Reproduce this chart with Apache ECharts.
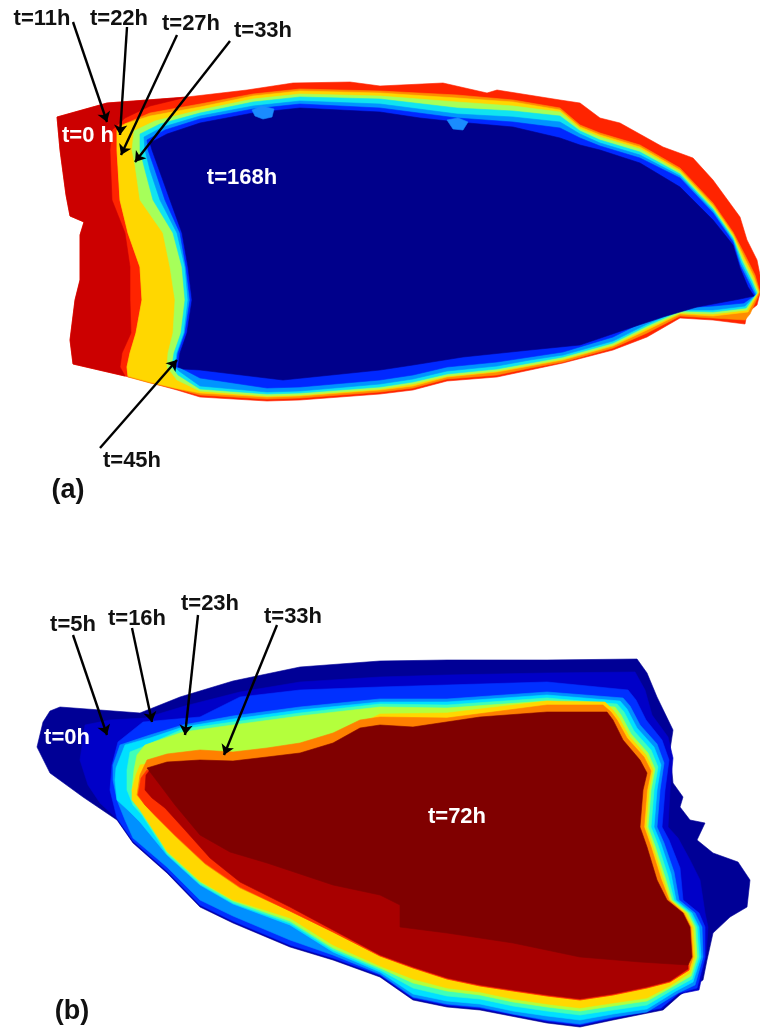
<!DOCTYPE html>
<html>
<head>
<meta charset="utf-8">
<script src="https://cdn.jsdelivr.net/npm/echarts@6/dist/echarts.min.js"></script>
<style>html,body{margin:0;padding:0;background:#fff}#c{width:760px;height:1031px}</style>
</head>
<body>
<div id="c"></div>
<script>
// ---------- Panel (a): contour outlines (image coordinates) ----------
const aOuter = [[57,117],[107,103],[187,97],[247,90],[293,83],[350,82],[380,86],[443,83],[487,93],[497,90],[560,100],[580,103],[600,118],[620,123],[663,147],[693,158],[713,180],[740,217],[747,240],[757,260],[762,285],[757,305],[747,313],[745,324],[713,320],[680,318],[647,337],[613,350],[563,363],[530,370],[497,377],[447,381],[413,390],[380,394],[300,400],[267,401],[200,397],[177,390],[133,378],[73,364],[70,340],[75,300],[80,280],[80,235],[84,222],[70,216],[66,195],[60,150]];
const aT0 = [[57,117],[107,103],[187,97],[150,106],[125,118],[112,130],[110,150],[112,200],[125,233],[130,267],[130,300],[131,333],[122,353],[120,367],[125,376],[73,364],[70,340],[75,300],[80,280],[80,235],[84,222],[70,216],[66,195],[60,150]];
const aOrange = [[117,130],[122,125],[150,113],[200,104],[253,94],[300,89],[380,91],[457,95],[513,100],[560,108],[580,125],[600,133],[640,145],[680,168],[713,203],[733,232],[745,255],[755,275],[760,292],[750,314],[745,320],[713,318],[680,316],[647,333],[613,348],[563,362],[530,368],[497,375],[447,379],[413,388],[380,392],[300,398],[267,399],[200,395],[177,389],[150,383],[128,377],[127,367],[130,353],[136,333],[142,300],[140,267],[128,233],[120,200],[117,150]];
const aYellow = [[117,130],[125,124],[150,116],[200,107],[253,96],[300,91],[380,93],[457,98],[513,102],[560,110],[580,127],[600,135],[640,147],[680,170],[713,205],[733,234],[744,257],[754,277],[759,292],[748,312],[713,316],[680,314],[647,330],[613,346],[563,360],[530,366],[497,372],[447,377],[413,386],[380,390],[300,396],[267,397],[200,393],[175,388],[150,382],[128,376],[127,367],[130,353],[136,333],[142,300],[140,267],[128,233],[120,200],[117,150]];
const aGreen = [[132,150],[134,131],[155,121],[200,110],[253,99],[300,94],[380,96],[457,102],[513,106],[560,112],[580,129],[600,137],[640,149],[680,172],[713,207],[733,236],[743,259],[753,279],[758,292],[747,310],[713,314],[680,313],[647,328],[613,345],[563,359],[530,365],[497,371],[447,376],[413,384],[380,389],[300,395],[267,396],[200,391],[177,380],[167,367],[168,353],[173,333],[175,300],[170,267],[163,233],[140,200],[135,165]];
const aCyan = [[140,150],[140,134],[160,124],[200,113],[253,102],[300,97],[380,99],[457,108],[513,111],[560,116],[580,131],[600,140],[640,152],[680,174],[713,209],[733,238],[742,261],[752,281],[757,293],[746,308],[713,312],[680,311],[647,326],[613,343],[563,357],[530,363],[497,369],[447,374],[413,382],[380,387],[300,393],[267,394],[200,389],[178,375],[172,367],[174,353],[181,333],[185,300],[182,267],[173,233],[153,200],[145,170]];
const aLightBlue = [[145,150],[144,137],[163,127],[200,116],[253,106],[300,101],[380,104],[457,114],[513,117],[560,122],[580,134],[600,143],[640,155],[680,176],[713,211],[733,240],[741,263],[751,283],[756,294],[745,306],[713,310],[680,310],[647,324],[613,341],[563,355],[530,360],[497,366],[447,371],[413,379],[380,384],[300,391],[267,392],[200,386],[179,371],[175,367],[177,353],[184,333],[188,300],[185,267],[177,233],[160,200],[150,170]];
const aBlue = [[148,150],[147,140],[165,130],[200,119],[253,109],[300,104],[380,108],[457,118],[513,122],[560,128],[580,138],[600,146],[640,158],[680,178],[713,213],[733,242],[740,265],[750,285],[755,295],[744,303],[713,306],[680,308],[647,320],[613,337],[563,352],[530,357],[497,362],[447,367],[413,375],[380,380],[300,387],[267,388],[200,378],[181,368],[176,367],[178,353],[185,333],[190,300],[186,267],[180,233],[165,200],[155,170]];
const aT168 = [[150,143],[167,134],[200,123],[253,113],[300,108],[380,112],[420,118],[457,122],[513,127],[560,138],[580,145],[600,150],[640,163],[680,187],[713,220],[733,245],[740,268],[748,287],[754,296],[740,299],[697,307],[663,317],[630,328],[580,345],[530,350],[463,357],[413,365],[380,370],[283,380],[200,370],[183,369],[178,367],[180,353],[187,333],[192,300],[188,267],[182,233],[170,200],[152,150]];
const aBlobs1 = [[252,110],[262,106],[274,109],[272,117],[263,119],[255,116]];
const aBlobs2 = [[447,120],[458,118],[468,122],[463,130],[453,129]];

// ---------- Panel (b): contour outlines ----------
const bT0 = [[37,747],[43,722],[50,711],[60,707],[100,710],[140,713],[180,697],[233,681],[300,667],[380,661],[447,660],[547,660],[637,659],[647,673],[657,697],[673,730],[670,750],[673,783],[683,797],[680,807],[690,820],[705,823],[697,840],[713,853],[738,862],[750,880],[747,907],[730,917],[713,933],[707,960],[703,980],[680,995],[663,1010],[613,1020],[580,1027],[547,1023],[480,1010],[447,1007],[413,1000],[380,977],[333,960],[290,947],[233,923],[200,907],[167,873],[133,843],[117,820],[83,797],[50,773]];
const bT5 = [[80,760],[85,725],[110,720],[145,718],[185,706],[240,692],[300,682],[380,677],[447,675],[547,673],[635,672],[645,690],[652,715],[668,737],[673,758],[670,790],[668,827],[678,838],[690,860],[700,880],[705,913],[708,927],[706,957],[699,990],[679,994],[662,1009],[613,1019],[580,1026],[547,1022],[480,1009],[447,1006],[413,999],[380,976],[333,959],[290,946],[233,922],[200,906],[167,872],[133,842],[117,819],[100,803],[88,785]];
const bT16 = [[112,765],[118,742],[143,722],[200,717],[240,697],[300,690],[380,687],[447,685],[547,682],[628,690],[636,700],[646,720],[662,740],[669,760],[665,790],[662,827],[669,840],[680,868],[683,900],[699,913],[705,927],[705,957],[697,988],[679,993],[661,1008],[613,1018],[580,1025],[547,1021],[480,1008],[447,1005],[413,998],[380,975],[333,958],[290,945],[233,921],[200,905],[167,871],[133,841],[117,818],[110,790]];
const bLightBlue = [[113,765],[120,745],[150,735],[183,725],[233,716],[300,707],[380,699],[447,699],[547,692],[623,698],[630,706],[640,725],[657,744],[664,763],[660,790],[657,827],[664,843],[674,872],[679,900],[695,913],[702,927],[703,957],[695,985],[678,993],[647,1012],[613,1017],[580,1024],[547,1020],[513,1014],[480,1007],[447,1004],[413,997],[380,974],[333,955],[290,940],[233,916],[200,900],[167,867],[133,838],[125,820],[117,800],[113,780]];
const bCyan = [[116,768],[125,745],[150,738],[183,727],[233,719],[300,710],[380,702],[447,702],[547,695],[620,701],[627,709],[637,728],[654,747],[661,765],[657,790],[654,827],[661,844],[671,874],[676,900],[692,913],[699,927],[701,957],[693,982],[676,991],[647,1009],[613,1014],[580,1020],[547,1016],[513,1011],[480,1004],[447,1001],[413,994],[380,972],[333,952],[290,925],[233,904],[200,885],[167,855],[140,822],[130,812],[117,800],[115,780]];
const bAqua = [[127,770],[130,752],[140,748],[183,729],[233,722],[300,713],[380,704],[447,705],[547,698],[617,704],[624,712],[634,731],[651,750],[658,767],[654,790],[651,827],[658,845],[668,876],[674,900],[690,913],[697,927],[699,957],[692,979],[674,989],[647,1005],[613,1010],[580,1015],[547,1011],[513,1006],[480,999],[447,996],[413,988],[380,970],[333,950],[290,923],[233,903],[200,884],[167,854],[142,815],[133,805],[127,790]];
const bT23 = [[132,790],[134,770],[137,755],[145,745],[183,732],[233,725],[300,716],[380,707],[447,708],[547,701],[615,707],[621,715],[631,734],[648,753],[655,769],[651,790],[648,827],[655,846],[665,877],[672,900],[688,913],[695,927],[697,957],[691,976],[672,987],[647,1001],[613,1006],[580,1011],[547,1007],[513,1002],[480,995],[447,991],[413,983],[380,968],[333,948],[290,921],[233,901],[200,882],[167,852],[144,812],[135,803]];
const bYellow = [[132,790],[136,775],[140,765],[200,755],[267,752],[333,737],[380,714],[447,713],[547,701],[605,702],[613,710],[619,718],[629,736],[646,755],[653,770],[649,790],[646,827],[653,847],[663,878],[670,900],[686,913],[693,927],[695,957],[690,973],[670,986],[647,998],[613,1003],[580,1008],[547,1004],[513,999],[480,992],[447,988],[413,979],[380,966],[333,945],[290,918],[233,900],[200,881],[167,851],[140,810],[132,800]];
const bT33 = [[137,795],[140,775],[147,760],[167,754],[200,750],[233,752],[267,748],[300,743],[333,733],[360,720],[380,717],[447,718],[547,705],[603,705],[611,712],[617,720],[627,738],[644,757],[651,771],[647,790],[644,827],[651,847],[661,879],[669,900],[684,913],[691,927],[693,957],[689,970],[670,982],[647,988],[613,995],[580,1000],[547,996],[513,991],[480,986],[447,979],[413,968],[380,956],[333,932],[290,911],[240,888],[205,864],[175,836],[155,816],[145,805]];
const bRed = [[138,795],[141,778],[147,770],[200,795],[260,830],[330,860],[380,880],[400,895],[500,925],[600,950],[688,955],[689,970],[670,982],[647,988],[613,995],[580,1000],[547,996],[513,991],[480,986],[447,979],[413,968],[380,956],[333,932],[290,911],[240,887],[205,863],[175,835],[155,815],[145,805]];
const bDarkRed = [[145,790],[146,775],[150,770],[200,795],[260,830],[330,860],[380,880],[400,895],[500,925],[600,950],[688,955],[688,969],[670,981],[647,987],[613,994],[580,999],[547,995],[513,990],[480,985],[447,978],[413,967],[380,955],[333,930],[290,907],[240,882],[210,858],[185,830],[165,808],[152,798]];
const bT72 = [[147,768],[167,762],[200,760],[233,761],[267,757],[300,753],[333,743],[360,728],[380,725],[413,727],[480,717],[547,712],[607,712],[613,720],[623,740],[640,760],[647,773],[643,790],[640,827],[647,847],[657,880],[667,900],[683,913],[690,927],[692,957],[688,965],[640,962],[580,957],[513,943],[447,933],[400,927],[400,905],[380,895],[333,885],[267,863],[230,852],[200,835],[175,805],[160,785]];

const contours = [aOuter, aT0, aOrange, aYellow, aGreen, aCyan, aLightBlue, aBlue, aT168, aBlobs1, aBlobs2,
                  bT0, bT5, bT16, bLightBlue, bCyan, bAqua, bT23, bYellow, bT33, bRed, bDarkRed, bT72];
const contourColors = ['#ff2400', '#cc0000', '#ff8c00', '#ffd700', '#a6ff5a', '#10e4f0', '#0094ff', '#0028ff', '#00008b', '#1a8cff', '#1a8cff',
                       '#000096', '#0000c8', '#0030ff', '#0090ff', '#00e0ff', '#40ffb8', '#b4ff3c', '#ffd800', '#ff8000', '#ff3000', '#a80000', '#800000'];

// ---------- annotations ----------
const labelTexts = ['t=11h', 't=22h', 't=27h', 't=33h', 't=45h', 't=0 h', 't=168h', '(a)',
                    't=5h', 't=16h', 't=23h', 't=33h', 't=0h', 't=72h', '(b)'];
const labelPos = [[42,19], [119,19], [191,24], [263,31], [132,461], [88,136], [242,178], [68,491],
                  [73,625], [137,619], [210,604], [293,617], [67,738], [457,817], [72,1012]];
const labelKind = ['k','k','k','k','k','w','w','p','k','k','k','k','w','w','p'];
const arrows = [
  [[73,22],[107,122]], [[127,27],[120,135]], [[177,35],[121,155]], [[230,41],[135,162]], [[100,448],[177,360]],
  [[73,635],[107,735]], [[132,628],[152,722]], [[198,615],[185,735]], [[277,625],[224,755]]
];

const chart = echarts.init(document.getElementById('c'), null, {renderer: 'canvas'});
chart.setOption({
  backgroundColor: '#ffffff',
  animation: false,
  grid: {left: 0, right: 0, top: 0, bottom: 0},
  xAxis: {type: 'value', min: 0, max: 760, show: false},
  yAxis: {type: 'value', min: 0, max: 1031, inverse: true, show: false},
  series: [
    {
      type: 'custom',
      silent: true,
      clip: false,
      data: contours.map((c, i) => [i]),
      renderItem: function (params, api) {
        const i = api.value(0);
        const pts = contours[i].map(p => api.coord(p));
        return {
          type: 'polygon',
          shape: {points: pts},
          style: {fill: contourColors[i], stroke: contourColors[i], lineWidth: 0.6}
        };
      }
    },
    {
      type: 'lines',
      coordinateSystem: 'cartesian2d',
      silent: true,
      symbol: ['none', 'arrow'],
      symbolSize: 10,
      lineStyle: {color: '#000', width: 2.4, opacity: 1, curveness: 0},
      data: arrows.map(a => ({coords: a}))
    },
    {
      type: 'custom',
      silent: true,
      clip: false,
      z: 10,
      data: labelPos.map((p, i) => [p[0], p[1], i]),
      renderItem: function (params, api) {
        const i = api.value(2);
        const p = api.coord([api.value(0), api.value(1)]);
        const kind = labelKind[i];
        return {
          type: 'text',
          x: p[0], y: p[1],
          style: {
            text: labelTexts[i],
            fill: kind === 'w' ? '#ffffff' : '#111111',
            fontFamily: 'Liberation Sans, Arial, sans-serif',
            fontWeight: 'bold',
            fontSize: kind === 'p' ? 27 : 22,
            align: 'center', verticalAlign: 'middle',
            textAlign: 'center', textVerticalAlign: 'middle'
          }
        };
      }
    }
  ]
});
</script>
</body>
</html>
